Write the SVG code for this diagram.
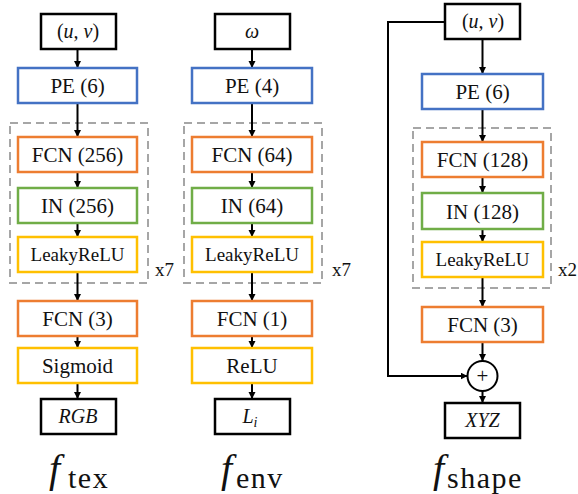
<svg xmlns="http://www.w3.org/2000/svg" width="578" height="494" viewBox="0 0 578 494">
  <style>
    text { font-family: "Liberation Serif", "Times New Roman", serif; fill: #111; }
    .lbl { font-size: 21px; text-anchor: middle; }
    .small { font-size: 19px; }
    .math { font-style: italic; font-size: 20px; text-anchor: middle; }
    .rep { font-size: 19px; }
    .io { fill: #fff; stroke: #000; stroke-width: 2.5; }
    .pe { fill: #fff; stroke: #4472C4; stroke-width: 2.5; }
    .fcn { fill: #fff; stroke: #ED7D31; stroke-width: 2.5; }
    .norm { fill: #fff; stroke: #70AD47; stroke-width: 2.5; }
    .act { fill: #fff; stroke: #FFC000; stroke-width: 2.5; }
    .block { fill: none; stroke: #A6A6A6; stroke-width: 2; stroke-dasharray: 8 5; }
    .wire { fill: none; stroke: #000; stroke-width: 2; marker-end: url(#head); }
    .fn { font-style: italic; font-size: 40px; }
    .sub { font-size: 30px; letter-spacing: 1.5px; }
  </style>
  <defs>
    <marker id="head" markerUnits="userSpaceOnUse" markerWidth="8" markerHeight="8" refX="7" refY="3.5" orient="auto">
      <path d="M0,0 L7,3.5 L0,7 z" fill="#000"/>
    </marker>
  </defs>

  <rect width="578" height="494" fill="#fff"/>

  <!-- repeated blocks -->
  <g id="blocks">
    <rect class="block" x="10" y="123" width="138" height="160"/>
    <rect class="block" x="184" y="123" width="138" height="160"/>
    <rect class="block" x="413" y="128" width="138" height="160"/>
    <text class="rep" x="155" y="276">x7</text>
    <text class="rep" x="332" y="276">x7</text>
    <text class="rep" x="558" y="276">x2</text>
  </g>

  <!-- connectors -->
  <g id="connectors">
    <line class="wire" x1="77.5" y1="49" x2="77.5" y2="68"/>
    <line class="wire" x1="77.5" y1="103" x2="77.5" y2="137"/>
    <line class="wire" x1="77.5" y1="172" x2="77.5" y2="188"/>
    <line class="wire" x1="77.5" y1="223" x2="77.5" y2="237"/>
    <line class="wire" x1="77.5" y1="272" x2="77.5" y2="301"/>
    <line class="wire" x1="77.5" y1="336" x2="77.5" y2="348"/>
    <line class="wire" x1="77.5" y1="383" x2="77.5" y2="399"/>

    <line class="wire" x1="252" y1="49" x2="252" y2="68"/>
    <line class="wire" x1="252" y1="103" x2="252" y2="137"/>
    <line class="wire" x1="252" y1="172" x2="252" y2="188"/>
    <line class="wire" x1="252" y1="223" x2="252" y2="237"/>
    <line class="wire" x1="252" y1="272" x2="252" y2="301"/>
    <line class="wire" x1="252" y1="336" x2="252" y2="348"/>
    <line class="wire" x1="252" y1="383" x2="252" y2="399"/>

    <line class="wire" x1="482.5" y1="39" x2="482.5" y2="74"/>
    <line class="wire" x1="482.5" y1="109" x2="482.5" y2="142"/>
    <line class="wire" x1="482.5" y1="177" x2="482.5" y2="193"/>
    <line class="wire" x1="482.5" y1="229" x2="482.5" y2="242"/>
    <line class="wire" x1="482.5" y1="277" x2="482.5" y2="307"/>
    <line class="wire" x1="482.5" y1="342" x2="482.5" y2="361"/>
    <line class="wire" x1="482.5" y1="391" x2="482.5" y2="403"/>
    <polyline class="wire" points="445,22 388,22 388,376 467.5,376"/>
  </g>

  <!-- f_tex -->
  <g id="tex-in"><rect class="io" x="41" y="14" width="75" height="35"/><text class="math" x="78" y="38"><tspan font-style="normal">(</tspan>u, v<tspan font-style="normal">)</tspan></text></g>
  <g id="tex-pe"><rect class="pe" x="18" y="68" width="119" height="35"/><text class="lbl" x="77.5" y="93">PE (6)</text></g>
  <g id="tex-fcn1"><rect class="fcn" x="18" y="137" width="119" height="35"/><text class="lbl" x="77.5" y="162">FCN (256)</text></g>
  <g id="tex-in1"><rect class="norm" x="18" y="188" width="119" height="35"/><text class="lbl" x="77.5" y="213">IN (256)</text></g>
  <g id="tex-lrelu"><rect class="act" x="18" y="237" width="119" height="35"/><text class="lbl small" x="77.5" y="261">LeakyReLU</text></g>
  <g id="tex-fcn2"><rect class="fcn" x="18" y="301" width="119" height="35"/><text class="lbl" x="77.5" y="326">FCN (3)</text></g>
  <g id="tex-sig"><rect class="act" x="18" y="348" width="119" height="35"/><text class="lbl" x="77.5" y="373">Sigmoid</text></g>
  <g id="tex-out"><rect class="io" x="41" y="399" width="75" height="35"/><text class="math" x="78" y="423">RGB</text></g>
  <g id="tex-name"><text class="fn" x="49" y="482">f</text><text class="sub" x="68" y="488">tex</text></g>

  <!-- f_env -->
  <g id="env-in"><rect class="io" x="215" y="14" width="75" height="35"/><text class="math" x="252" y="38">ω</text></g>
  <g id="env-pe"><rect class="pe" x="192" y="68" width="120" height="35"/><text class="lbl" x="252" y="93">PE (4)</text></g>
  <g id="env-fcn1"><rect class="fcn" x="192" y="137" width="120" height="35"/><text class="lbl" x="252" y="162">FCN (64)</text></g>
  <g id="env-in1"><rect class="norm" x="192" y="188" width="120" height="35"/><text class="lbl" x="252" y="213">IN (64)</text></g>
  <g id="env-lrelu"><rect class="act" x="192" y="237" width="120" height="35"/><text class="lbl small" x="252" y="261">LeakyReLU</text></g>
  <g id="env-fcn2"><rect class="fcn" x="192" y="301" width="120" height="35"/><text class="lbl" x="252" y="326">FCN (1)</text></g>
  <g id="env-relu"><rect class="act" x="192" y="348" width="120" height="35"/><text class="lbl" x="252" y="373">ReLU</text></g>
  <g id="env-out"><rect class="io" x="215" y="399" width="75" height="35"/><text class="math" x="250" y="423">L<tspan font-size="14" dy="4">i</tspan></text></g>
  <g id="env-name"><text class="fn" x="221" y="482">f</text><text class="sub" x="236" y="488">env</text></g>

  <!-- f_shape -->
  <g id="shape-in"><rect class="io" x="445" y="4" width="75" height="35"/><text class="math" x="483" y="28"><tspan font-style="normal">(</tspan>u, v<tspan font-style="normal">)</tspan></text></g>
  <g id="shape-pe"><rect class="pe" x="422" y="74" width="121" height="35"/><text class="lbl" x="482.5" y="99">PE (6)</text></g>
  <g id="shape-fcn1"><rect class="fcn" x="422" y="142" width="121" height="35"/><text class="lbl" x="482.5" y="167">FCN (128)</text></g>
  <g id="shape-in1"><rect class="norm" x="422" y="193" width="121" height="36"/><text class="lbl" x="482.5" y="218.5">IN (128)</text></g>
  <g id="shape-lrelu"><rect class="act" x="422" y="242" width="121" height="35"/><text class="lbl small" x="482.5" y="266">LeakyReLU</text></g>
  <g id="shape-fcn2"><rect class="fcn" x="422" y="307" width="121" height="35"/><text class="lbl" x="482.5" y="332">FCN (3)</text></g>
  <g id="shape-add"><circle cx="482.5" cy="376" r="15" fill="#fff" stroke="#000" stroke-width="2"/><text class="lbl" x="482.5" y="383" font-size="22" fill="#333">+</text></g>
  <g id="shape-out"><rect class="io" x="445" y="403" width="75" height="35"/><text class="math" x="482.5" y="427">XYZ</text></g>
  <g id="shape-name"><text class="fn" x="433" y="482">f</text><text class="sub" x="447" y="488">shape</text></g>
</svg>
